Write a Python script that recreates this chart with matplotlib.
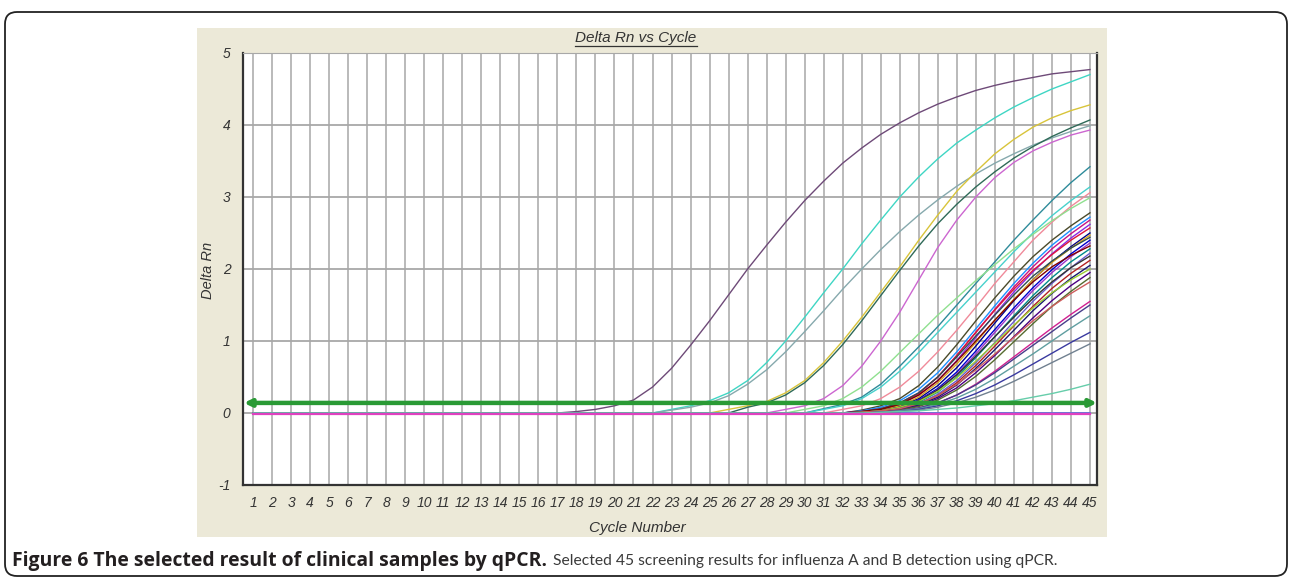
import matplotlib
matplotlib.use('Agg')
import matplotlib.pyplot as plt
from matplotlib.patches import Rectangle, FancyBboxPatch
from matplotlib.lines import Line2D

W, H = 1292, 579

cycles = list(range(1, 46))
threshold = 0.14

# amplification curves: start cycle + Delta Rn read per cycle from there to 45 (0 before)
curve_start = [18, 23, 23, 26, 27, 29, 31, 31, 32, 30,
               33, 33, 33, 33, 33, 33, 33, 33, 33, 33,
               33, 33, 33, 33, 33, 33, 33, 33, 33, 33,
               33, 33, 33, 33, 33, 33]
curve_values = [
    [0.02, 0.05, 0.10, 0.18, 0.36, 0.62, 0.94, 1.28, 1.64, 2.00, 2.33, 2.65, 2.95, 3.22,
     3.47, 3.68, 3.87, 4.03, 4.17, 4.29, 4.39, 4.48, 4.55, 4.61, 4.66, 4.71, 4.74, 4.77],
    [0.05, 0.10, 0.17, 0.28, 0.45, 0.70, 1.00, 1.33, 1.67, 2.00, 2.35, 2.68, 3.00, 3.28,
     3.53, 3.75, 3.93, 4.10, 4.25, 4.38, 4.50, 4.60, 4.70],
    [0.04, 0.08, 0.14, 0.24, 0.40, 0.60, 0.85, 1.13, 1.42, 1.72, 2.00, 2.27, 2.52, 2.75,
     2.96, 3.15, 3.32, 3.47, 3.60, 3.72, 3.82, 3.91, 3.99],
    [0.05, 0.10, 0.16, 0.28, 0.45, 0.70, 1.00, 1.33, 1.68, 2.03, 2.40, 2.75, 3.08, 3.35,
     3.60, 3.80, 3.97, 4.10, 4.20, 4.28],
    [0.08, 0.14, 0.25, 0.42, 0.66, 0.95, 1.28, 1.63, 1.98, 2.32, 2.63, 2.90, 3.14, 3.35,
     3.54, 3.70, 3.84, 3.96, 4.07],
    [0.05, 0.10, 0.20, 0.38, 0.65, 1.00, 1.40, 1.85, 2.30, 2.68, 3.00, 3.27, 3.48, 3.64,
     3.76, 3.86, 3.93],
    [0.06, 0.12, 0.22, 0.40, 0.65, 0.92, 1.20, 1.50, 1.80, 2.10, 2.40, 2.68, 2.95, 3.20, 3.42],
    [0.05, 0.10, 0.20, 0.36, 0.58, 0.84, 1.12, 1.40, 1.68, 1.96, 2.24, 2.50, 2.74, 2.95, 3.14],
    [0.05, 0.10, 0.20, 0.36, 0.58, 0.85, 1.15, 1.47, 1.80, 2.10, 2.40, 2.65, 2.87, 3.06],
    [0.05, 0.10, 0.20, 0.36, 0.58, 0.84, 1.10, 1.36, 1.60, 1.84, 2.06, 2.28, 2.48, 2.67,
     2.84, 2.99],
    [0.04, 0.10, 0.20, 0.38, 0.64, 0.95, 1.28, 1.60, 1.90, 2.17, 2.40, 2.60, 2.78],
    [0.03, 0.08, 0.17, 0.33, 0.56, 0.85, 1.17, 1.49, 1.80, 2.08, 2.33, 2.54, 2.72],
    [0.02, 0.06, 0.14, 0.28, 0.50, 0.80, 1.12, 1.44, 1.75, 2.03, 2.28, 2.49, 2.68],
    [0.02, 0.05, 0.12, 0.25, 0.45, 0.73, 1.05, 1.37, 1.68, 1.96, 2.21, 2.43, 2.62],
    [0.02, 0.05, 0.13, 0.27, 0.50, 0.80, 1.12, 1.43, 1.72, 1.98, 2.20, 2.40, 2.57],
    [0.01, 0.04, 0.10, 0.20, 0.38, 0.63, 0.93, 1.25, 1.56, 1.85, 2.10, 2.31, 2.50],
    [0.01, 0.04, 0.10, 0.22, 0.42, 0.68, 0.98, 1.29, 1.58, 1.85, 2.09, 2.29, 2.47],
    [0.02, 0.06, 0.14, 0.28, 0.50, 0.78, 1.07, 1.36, 1.64, 1.90, 2.11, 2.29, 2.44],
    [0.01, 0.03, 0.08, 0.18, 0.34, 0.57, 0.86, 1.16, 1.46, 1.74, 1.99, 2.21, 2.40],
    [0.01, 0.03, 0.08, 0.17, 0.32, 0.54, 0.82, 1.12, 1.42, 1.70, 1.95, 2.17, 2.36],
    [0.02, 0.05, 0.12, 0.25, 0.45, 0.72, 1.00, 1.29, 1.57, 1.82, 2.03, 2.19, 2.32],
    [0.01, 0.03, 0.07, 0.15, 0.29, 0.50, 0.77, 1.06, 1.35, 1.63, 1.88, 2.10, 2.28],
    [0.01, 0.02, 0.06, 0.13, 0.26, 0.45, 0.70, 0.98, 1.27, 1.55, 1.80, 2.02, 2.22],
    [0.01, 0.03, 0.08, 0.17, 0.32, 0.53, 0.79, 1.06, 1.33, 1.59, 1.82, 2.02, 2.18],
    [0.00, 0.02, 0.05, 0.12, 0.24, 0.42, 0.66, 0.93, 1.21, 1.48, 1.73, 1.94, 2.12],
    [0.01, 0.02, 0.05, 0.11, 0.22, 0.39, 0.62, 0.88, 1.15, 1.42, 1.66, 1.87, 2.05],
    [0.01, 0.03, 0.08, 0.16, 0.30, 0.49, 0.72, 0.97, 1.22, 1.46, 1.67, 1.85, 2.00],
    [0.00, 0.02, 0.05, 0.10, 0.20, 0.35, 0.56, 0.80, 1.06, 1.32, 1.56, 1.77, 1.95],
    [0.00, 0.01, 0.04, 0.09, 0.18, 0.32, 0.51, 0.74, 0.99, 1.24, 1.48, 1.69, 1.88],
    [0.01, 0.03, 0.06, 0.13, 0.24, 0.40, 0.60, 0.82, 1.05, 1.28, 1.48, 1.66, 1.82],
    [0.00, 0.01, 0.03, 0.07, 0.14, 0.25, 0.40, 0.58, 0.78, 0.98, 1.18, 1.37, 1.55],
    [0.00, 0.01, 0.03, 0.07, 0.14, 0.25, 0.39, 0.56, 0.75, 0.94, 1.13, 1.32, 1.50],
    [0.00, 0.01, 0.03, 0.06, 0.12, 0.21, 0.33, 0.48, 0.65, 0.82, 1.00, 1.18, 1.35],
    [0.00, 0.01, 0.02, 0.05, 0.10, 0.17, 0.27, 0.39, 0.53, 0.68, 0.83, 0.98, 1.12],
    [0.00, 0.01, 0.02, 0.04, 0.08, 0.14, 0.22, 0.32, 0.44, 0.57, 0.70, 0.83, 0.96],
    [0.00, 0.01, 0.02, 0.03, 0.05, 0.07, 0.10, 0.13, 0.17, 0.22, 0.27, 0.33, 0.40],
]
curve_colors = ['#6e4a78', '#3fd6c4', '#86a9ad', '#d8c43a', '#2f6a58', '#cc66d0',
                '#2e8b9a', '#48d1cc', '#f08a9a', '#8fe08f',
                '#4a4a2a', '#1e90ff', '#c71585', '#8a2be2', '#dc143c', '#00008b',
                '#daa520', '#2f4f4f', '#0000cd', '#9932cc', '#800000', '#008b8b',
                '#6a5acd', '#333333', '#b22222', '#191970', '#9acd32', '#4b0082',
                '#556b2f', '#cd5c5c', '#d02090', '#483d8b', '#5f9ea0', '#3a3aa0',
                '#708090', '#66cdaa']

# no-template control stays flat just under zero
negative_values = [-0.01] * 45

y_ticks = [-1, 0, 1, 2, 3, 4, 5]

caption_bold = 'Figure 6 The selected result of clinical samples by qPCR.'
caption_rest = 'Selected 45 screening results for influenza A and B detection using qPCR.'

fig = plt.figure(figsize=(W / 100, H / 100), dpi=100)
fig.patch.set_facecolor('white')

# outer frame and beige chart panel (pixel coords)
px = fig.dpi_scale_trans
frame = FancyBboxPatch((5 / 100, 3 / 100), 1282 / 100, 564 / 100,
                       boxstyle='round,pad=0,rounding_size=0.12',
                       transform=px, fill=False, edgecolor='#222222', lw=1.3, zorder=-5)
fig.patches.append(frame)
panel = Rectangle((197 / 100, (H - 537) / 100), 910 / 100, 509 / 100,
                  transform=px, facecolor='#ece9d8', edgecolor='none', zorder=-5)
fig.patches.append(panel)

ax = fig.add_axes([243 / W, 1 - 485 / H, 854 / W, 432 / H])
ax.set_zorder(2)
ax.set_facecolor('white')
ax.set_xlim(0.47, 45.37)
ax.set_ylim(-1, 5)

for c in cycles:
    ax.axvline(c, color='#b4b4b4', lw=1.3, zorder=1)
for t in y_ticks:
    ax.axhline(t, color='#a8a8a8', lw=1.3, zorder=1)

zeros = [0.0] * 45
ax.plot(cycles, zeros, color='#5a6ee0', lw=1.2, zorder=2)
for start, vals, col in zip(curve_start, curve_values, curve_colors):
    ys = [0.0] * (start - 1) + vals
    ax.plot(cycles, ys, color=col, lw=1.0, zorder=3)
ax.plot(cycles, negative_values, color='#e040c0', lw=1.6, zorder=3)

# threshold line with arrow ends
ax.annotate('', xy=(45.37, threshold), xytext=(0.52, threshold),
            arrowprops=dict(arrowstyle='<|-|>', color='#2a9a35', lw=3.2,
                            mutation_scale=10, shrinkA=0, shrinkB=0), zorder=5)

ax.set_xticks(cycles)
ax.set_xticklabels([str(c) for c in cycles], fontstyle='italic', family='Liberation Sans',
                   fontsize=10, color='#333333')
ax.set_yticks(y_ticks)
ax.set_yticklabels([str(t) for t in y_ticks], fontstyle='italic', family='Liberation Sans',
                   fontsize=10, color='#333333')
ax.tick_params(length=0)
ax.tick_params(axis='x', pad=8)
ax.tick_params(axis='y', pad=9)
ax.grid(False)
for s in ['left', 'bottom', 'right']:
    ax.spines[s].set_color('#333333')
    ax.spines[s].set_linewidth(1.6)
ax.spines['top'].set_color('#a8a8a8')

fig.text(208 / W, 1 - 270 / H, 'Delta Rn', rotation=90, ha='center', va='center',
         fontstyle='italic', family='Liberation Sans', fontsize=10.5, color='#333333')
fig.text(637 / W, 1 - 528 / H, 'Cycle Number', ha='center', va='center',
         fontstyle='italic', family='Liberation Sans', fontsize=11, color='#333333')
title = fig.text(636 / W, 1 - 38 / H, 'Delta Rn vs Cycle', ha='center', va='center',
                 fontstyle='italic', family='Liberation Sans', fontsize=11, color='#333333')

renderer = fig.canvas.get_renderer()
tb = title.get_window_extent(renderer)
fig.lines.append(Line2D([tb.x0 / W, tb.x1 / W], [(tb.y0 - 1) / H, (tb.y0 - 1) / H],
                        transform=fig.transFigure, color='#333333', lw=0.9))

# caption: bold part spans x 12..548, regular part 553..1057 in the reference
cap1 = fig.text(12 / W, 1 - 561 / H, caption_bold, ha='left', va='center',
                fontweight='bold', family='Open Sans', fontsize=12, color='#231f20')
w1 = cap1.get_window_extent(renderer).width
cap1.set_fontsize(12 * 536 / w1)
cap2 = fig.text(553 / W, 1 - 561 / H, caption_rest, ha='left', va='center',
                family='Lato', fontsize=12, color='#3a3a3a')
w2 = cap2.get_window_extent(renderer).width
cap2.set_fontsize(12 * 504 / w2)

plt.savefig('out.png', dpi=100)
